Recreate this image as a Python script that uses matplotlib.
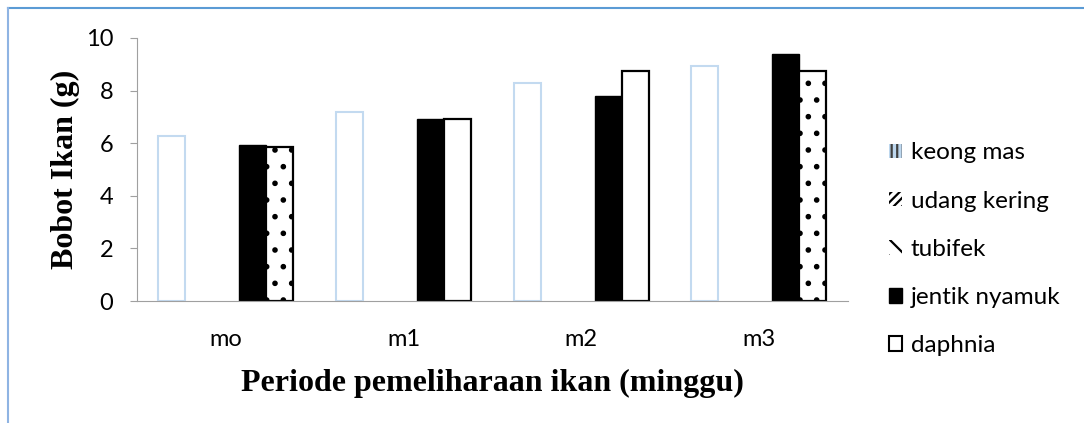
import matplotlib.pyplot as plt
from matplotlib.patches import Patch
from matplotlib.lines import Line2D
import numpy as np

categories = ['mo', 'm1', 'm2', 'm3']
series_names = ['keong mas', 'udang kering', 'tubifek', 'jentik nyamuk', 'daphnia']
keong_mas = [6.27, 7.19, 8.29, 8.94]
udang_kering = [0, 0, 0, 0]
tubifek = [0, 0, 0, 0]
jentik_nyamuk = [5.93, 6.92, 7.79, 9.39]
daphnia = [5.86, 6.93, 8.75, 8.75]
daphnia_dotted = [True, False, False, True]


def main():
    plt.rcParams['hatch.linewidth'] = 1.6
    fig = plt.figure(figsize=(10.84, 4.23), dpi=100)
    ax = fig.add_axes([0.1264, 0.2884, 0.6556, 0.6218])

    x = np.arange(len(categories))
    w = 0.152

    ax.bar(x - 2 * w, keong_mas, w, facecolor='white', edgecolor='#c3daf0', linewidth=1.5)
    ax.bar(x - w, udang_kering, w, facecolor='white', edgecolor='none')
    ax.bar(x, tubifek, w, facecolor='white', edgecolor='none')
    ax.bar(x + w, jentik_nyamuk, w, facecolor='black', edgecolor='black', linewidth=1)
    for i in range(len(categories)):
        ax.bar(x[i] + 2 * w, daphnia[i], w, facecolor='white', edgecolor='black',
               linewidth=1.6, hatch='.' if daphnia_dotted[i] else None)

    ax.set_xlim(-0.5, 3.5)
    ax.set_ylim(0, 10)
    ax.set_yticks([0, 2, 4, 6, 8, 10])
    ax.set_xticks(x)
    ax.set_xticklabels(categories)
    ax.tick_params(axis='x', length=0, pad=20, labelsize=17)
    ax.tick_params(axis='y', length=5, color='#a0a0a0', pad=12, labelsize=17)
    for lab in ax.get_xticklabels() + ax.get_yticklabels():
        lab.set_fontfamily('Lato')
    for s in ['top', 'right']:
        ax.spines[s].set_visible(False)
    ax.spines['left'].set_color('#a0a0a0')
    ax.spines['bottom'].set_color('#a0a0a0')

    ax.set_xlabel('Periode pemeliharaan ikan (minggu)', fontfamily='Liberation Serif',
                  fontweight='bold', fontsize=23, labelpad=14)
    ax.set_ylabel('Bobot Ikan (g)', fontfamily='Liberation Serif',
                  fontweight='bold', fontsize=23, labelpad=4)

    handles = [
        Patch(facecolor='#bdd7ee', edgecolor='#404040', hatch='|||', linewidth=0),
        Patch(facecolor='white', edgecolor='black', hatch='////', linewidth=0),
        Patch(facecolor='white', edgecolor='black', hatch='\\\\', linewidth=0),
        Patch(facecolor='black', edgecolor='black'),
        Patch(facecolor='white', edgecolor='black', linewidth=1.5),
    ]
    fig.legend(handles, series_names, loc='upper left', bbox_to_anchor=(0.8, 0.715),
               frameon=False, prop={'family': 'Lato', 'size': 17.5}, handlelength=0.55,
               handleheight=0.55, handletextpad=0.35, labelspacing=1.12)

    fig.add_artist(Line2D([0.0075, 1.0], [0.981, 0.981], color='#5b9bd5', linewidth=1.5))
    fig.add_artist(Line2D([0.0075, 0.0075], [0.0, 0.981], color='#8fb4e3', linewidth=1.5))

    fig.savefig('out.png', dpi=100)


if __name__ == '__main__':
    main()
